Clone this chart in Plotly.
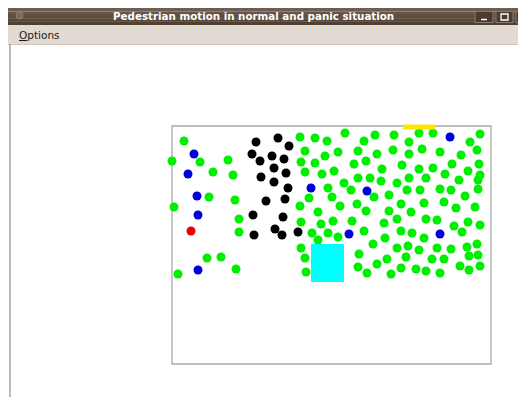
import plotly.graph_objects as go

# ---- data (screen-pixel coordinates of the simulation scene) ----
room_x = [172, 491]
room_y = [126, 364]
exit_x = [403, 435]
exit_y = [124.5, 129.5]
obstacle_x = [311, 344]
obstacle_y = [244, 282]

black_x = [278, 256, 289, 252, 272, 284, 260, 274, 286, 261, 274, 288, 266, 285, 253, 283, 275, 282, 254, 298]
black_y = [138, 142, 146, 154, 156, 159, 161, 168, 173, 177, 182, 188, 201, 199, 215, 217, 229, 235, 235, 232]

blue_x = [194, 188, 197, 198, 198, 311, 367, 349, 440, 450]
blue_y = [154, 174, 196, 215, 270, 188, 191, 234, 234, 137]

red_x = [191]
red_y = [231]

green_x = [184, 172, 200, 228, 213, 233, 209, 235, 174, 239, 239, 207, 221, 236, 178,
           300, 315, 327, 345, 364, 375, 394, 409, 419, 433, 470, 480,
           305, 325, 338, 358, 377, 393, 409, 422, 440, 461, 477,
           301, 315, 354, 366, 402, 452, 479,
           305, 322, 334, 382, 419, 433, 445, 468, 480,
           358, 370, 409, 344, 381, 397, 426, 459, 478,
           328, 351, 374, 389, 407, 420, 440, 451, 478,
           309, 332, 357, 401, 424, 444, 465,
           300, 340, 475,
           318, 366, 389, 411, 456,
           301, 321, 333, 352, 384, 397, 426, 437, 454, 468, 480,
           312, 328, 338, 364, 401, 412, 462,
           318, 373, 385, 424,
           301, 397, 408, 419, 437, 451, 467, 477,
           305, 359, 377, 387, 406, 432, 444, 469, 478,
           306, 358, 367, 391, 401, 416, 426, 440, 460, 469, 480]
green_y = [141, 161, 162, 160, 172, 175, 197, 200, 207, 219, 232, 258, 257, 269, 274,
           137, 138, 141, 133, 141, 135, 135, 142, 133, 133, 142, 134,
           151, 156, 152, 151, 154, 150, 154, 149, 152, 155, 150,
           162, 163, 164, 161, 165, 164, 164,
           172, 174, 171, 169, 169, 168, 174, 171, 175,
           178, 178, 178, 183, 181, 183, 178, 180, 180,
           188, 190, 197, 195, 190, 190, 189, 190, 189,
           198, 197, 204, 204, 203, 202, 196,
           206, 206, 207,
           212, 211, 211, 212, 208,
           222, 224, 221, 221, 223, 219, 219, 220, 226, 222, 225,
           233, 233, 237, 231, 231, 233, 232,
           240, 244, 238, 238,
           248, 248, 246, 250, 248, 249, 247, 244,
           258, 254, 264, 259, 257, 259, 259, 256, 255,
           272, 267, 273, 274, 268, 269, 271, 273, 266, 270, 266]

title_text = "Pedestrian motion in normal and panic situation"
menu_text = "<u>O</u>ptions"

W, H = 526, 405
OFF = 8  # page body margin: figure starts at page pixel 8
FW, FH = W - OFF, H - 2 * OFF

fig = go.Figure()

groups = [
    (green_x, green_y, "#00ee00"),
    (black_x, black_y, "#000000"),
    (blue_x, blue_y, "#0000dd"),
    (red_x, red_y, "#ee0000"),
]
for gx, gy, col in groups:
    fig.add_trace(go.Scatter(x=gx, y=gy, mode="markers",
                             marker=dict(size=9, color=col, line=dict(width=0)),
                             hoverinfo="skip", showlegend=False))

shapes = []
# window chrome: title bar (gradient approximated by bands)
bands = ["#6e5d50", "#665548", "#5e4e42", "#574739", "#504034"]
y0 = 8
for i, c in enumerate(bands):
    shapes.append(dict(type="rect", xref="x", yref="y", x0=8, x1=W + 2, y0=y0 + i * 3.4, y1=y0 + (i + 1) * 3.4 + 0.2,
                       fillcolor=c, line=dict(width=0), layer="below"))
# menu bar
shapes.append(dict(type="rect", xref="x", yref="y", x0=8, x1=W + 2, y0=25, y1=44,
                   fillcolor="#e2dbd1", line=dict(width=0), layer="below"))
shapes.append(dict(type="line", xref="x", yref="y", x0=8, x1=W + 2, y0=44.5, y1=44.5,
                   line=dict(color="#cfc7bc", width=1), layer="below"))
# window left frame
shapes.append(dict(type="line", xref="x", yref="y", x0=10, x1=10, y0=44, y1=H + 2,
                   line=dict(color="#8c8c8c", width=1.2), layer="below"))
# title icon
shapes.append(dict(type="circle", xref="x", yref="y", x0=16, x1=23, y0=12, y1=19,
                   fillcolor="#7a6a5e", line=dict(color="#8e7f73", width=1), layer="below"))
# window buttons
for bx0, bx1 in [(475, 493), (496, 513), (516, 534)]:
    shapes.append(dict(type="rect", xref="x", yref="y", x0=bx0, x1=bx1, y0=11.5, y1=22.5,
                       fillcolor="#4a3b31", line=dict(color="#8a7a6d", width=1), layer="below"))
shapes.append(dict(type="line", xref="x", yref="y", x0=481, x1=487, y0=19.5, y1=19.5,
                   line=dict(color="#ffffff", width=1.5)))
shapes.append(dict(type="rect", xref="x", yref="y", x0=501, x1=508, y0=14, y1=20,
                   line=dict(color="#ffffff", width=1.3)))
shapes.append(dict(type="line", xref="x", yref="y", x0=521, x1=527, y0=14, y1=20,
                   line=dict(color="#ffffff", width=1.5)))
shapes.append(dict(type="line", xref="x", yref="y", x0=521, x1=527, y0=20, y1=14,
                   line=dict(color="#ffffff", width=1.5)))
# room
shapes.append(dict(type="rect", xref="x", yref="y", x0=room_x[0], x1=room_x[1], y0=room_y[0], y1=room_y[1],
                   fillcolor="rgba(0,0,0,0)", line=dict(color="#a9a9a9", width=1.3), layer="below"))
# exit
shapes.append(dict(type="rect", xref="x", yref="y", x0=exit_x[0], x1=exit_x[1], y0=exit_y[0], y1=exit_y[1],
                   fillcolor="#ffe600", line=dict(width=0), layer="above"))
# obstacle
shapes.append(dict(type="rect", xref="x", yref="y", x0=obstacle_x[0], x1=obstacle_x[1],
                   y0=obstacle_y[0], y1=obstacle_y[1],
                   fillcolor="#00ffff", line=dict(width=0), layer="above"))

annotations = [
    dict(x=253, y=16.3, xref="x", yref="y", text="<b>" + title_text + "</b>", showarrow=False,
         font=dict(family="DejaVu Sans", size=10.3, color="#ffffff"), xanchor="center", yanchor="middle"),
    dict(x=17, y=35, xref="x", yref="y", text=menu_text, showarrow=False,
         font=dict(family="DejaVu Sans", size=10.5, color="#1a1a1a"), xanchor="left", yanchor="middle"),
]

fig.update_layout(
    width=FW, height=FH, autosize=False,
    margin=dict(l=0, r=0, t=0, b=0, pad=0),
    paper_bgcolor="#ffffff", plot_bgcolor="#ffffff",
    xaxis=dict(range=[OFF, W], visible=False, fixedrange=True),
    yaxis=dict(range=[H - OFF, OFF], visible=False, fixedrange=True),
    shapes=shapes, annotations=annotations,
    showlegend=False,
)

fig.write_html("out.html", config=dict(displayModeBar=False),
               default_width=f"{FW}px", default_height=f"{FH}px")
